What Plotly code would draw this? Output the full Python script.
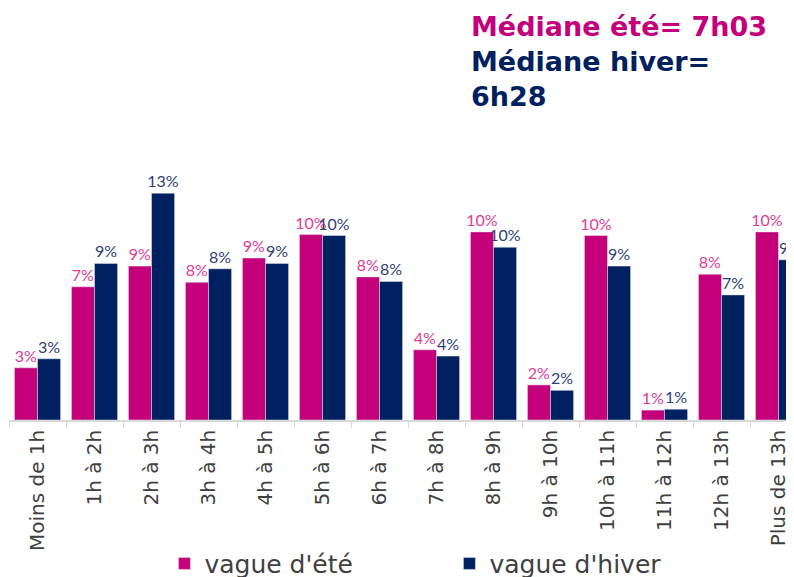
import plotly.graph_objects as go

categories = ["Moins de 1h", "1h à 2h", "2h à 3h", "3h à 4h", "4h à 5h", "5h à 6h", "6h à 7h",
              "7h à 8h", "8h à 9h", "9h à 10h", "10h à 11h", "11h à 12h", "12h à 13h", "Plus de 13h"]
ete = [2.9, 7.4, 8.55, 7.65, 9.0, 10.3, 7.95, 3.9, 10.45, 1.95, 10.25, 0.55, 8.1, 10.45]
hiver = [3.4, 8.7, 12.6, 8.4, 8.7, 10.25, 7.7, 3.55, 9.6, 1.65, 8.55, 0.6, 6.95, 8.9]

PINK = '#C4007A'
NAVY = '#002060'
FONT = 'Lato, sans-serif'
WIDE = 'DejaVu Sans, sans-serif'

fig = go.Figure()
fig.add_trace(go.Bar(x=categories, y=ete, name="vague d'été", marker=dict(color=PINK),
                     texttemplate='%{y:.0f}%', textposition='outside', cliponaxis=False,
                     constraintext='none',
                     outsidetextfont=dict(color='#DE3C96', size=16, family=FONT)))
fig.add_trace(go.Bar(x=categories, y=hiver, name="vague d'hiver", marker=dict(color=NAVY),
                     texttemplate='%{y:.0f}%', textposition='outside', cliponaxis=False,
                     constraintext='none',
                     outsidetextfont=dict(color='#2F3E75', size=16, family=FONT)))

# la page ajoute une marge de 8px : le graphique est décalé en conséquence
fig.update_layout(
    width=794, height=577,
    barmode='group', bargap=0.19, bargroupgap=0,
    plot_bgcolor='white', paper_bgcolor='white',
    font=dict(family=FONT, color='#404040'),
    margin=dict(l=1, r=0, t=92, b=165, autoexpand=False),
    xaxis=dict(range=[-0.5, -0.5 + 793 / 57], tickangle=-90, tickson='boundaries', ticks='outside',
               ticklen=6, tickcolor='#D9D9D9', showline=True, linecolor='#D9D9D9', linewidth=1.5,
               showgrid=False, automargin=False,
               tickfont=dict(size=20, color='#404040', family=WIDE)),
    yaxis=dict(range=[0, 320 / 18], visible=False, showgrid=False, zeroline=False),
    legend=dict(orientation='h', x=0.196, xanchor='left', y=-0.377, yanchor='top',
                font=dict(size=25, color='#404040', family=WIDE),
                entrywidth=240, entrywidthmode='pixels', itemwidth=30),
)

# Médianes en haut à droite
fig.add_annotation(
    x=0.58, y=1.284, xref='paper', yref='paper', xanchor='left', yanchor='top', align='left',
    showarrow=False, font=dict(size=27, family=WIDE),
    text=f"<b><span style='color:{PINK}'>Médiane été= 7h03</span><br>"
         f"<span style='color:{NAVY}'>Médiane hiver=<br>6h28</span></b>")

fig.write_html("out.html")
